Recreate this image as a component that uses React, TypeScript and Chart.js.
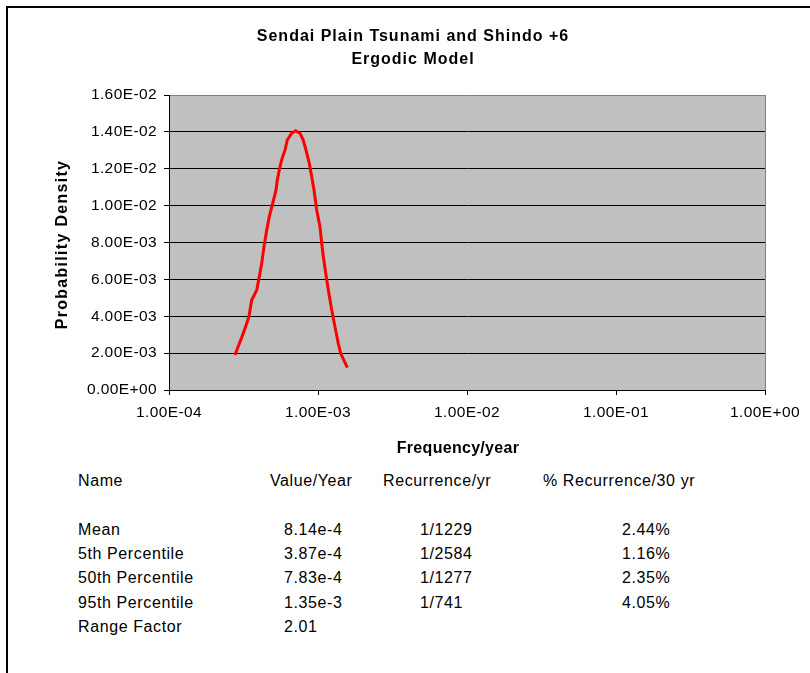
import React, { useEffect, useRef } from "react";
import { Chart, registerables } from "chart.js";

Chart.register(...registerables);

const TITLE_LINES = ["Sendai Plain Tsunami and Shindo +6", "Ergodic Model"];
const X_TITLE = "Frequency/year";
const Y_TITLE = "Probability Density";

const X_TICKS = [1e-4, 1e-3, 1e-2, 1e-1, 1];
const Y_MIN = 0;
const Y_MAX = 0.016;
const Y_STEP = 0.002;

const frequency = [
  2.77e-4, 3.15e-4, 3.44e-4, 3.59e-4, 3.88e-4, 4.04e-4, 4.19e-4, 4.34e-4,
  4.53e-4, 4.71e-4, 4.97e-4, 5.23e-4, 5.33e-4, 5.5e-4, 5.7e-4, 6.01e-4,
  6.22e-4, 6.65e-4, 7.08e-4, 7.57e-4, 7.96e-4, 8.3e-4, 8.74e-4, 9.08e-4,
  9.4e-4, 9.8e-4, 1.031e-3, 1.059e-3, 1.086e-3, 1.127e-3, 1.173e-3, 1.236e-3,
  1.3e-3, 1.368e-3, 1.419e-3, 1.574e-3,
];
const density = [
  0.0019, 0.00307, 0.00398, 0.00488, 0.00542, 0.00615, 0.00687, 0.00777,
  0.00868, 0.0094, 0.01013, 0.01085, 0.01139, 0.01193, 0.01248, 0.01302,
  0.01356, 0.01392, 0.01406, 0.01392, 0.01356, 0.01302, 0.0123, 0.01157,
  0.01085, 0.00976, 0.00886, 0.00796, 0.00723, 0.00633, 0.00542, 0.00434,
  0.00343, 0.00253, 0.00199, 0.00121,
];

const TABLE_HEADER = ["Name", "Value/Year", "Recurrence/yr", "% Recurrence/30 yr"];
const rowNames = ["Mean", "5th Percentile", "50th Percentile", "95th Percentile", "Range Factor"];
const rowValues = ["8.14e-4", "3.87e-4", "7.83e-4", "1.35e-3", "2.01"];
const rowRecurrence = ["1/1229", "1/2584", "1/1277", "1/741", ""];
const rowPercent = ["2.44%", "1.16%", "2.35%", "4.05%", ""];

function excelExp(v: number): string {
  const [m, e] = v.toExponential(2).split("e");
  const sign = e[0] === "-" ? "-" : "+";
  const digits = e.replace(/^[+-]/, "").padStart(2, "0");
  return m + "E" + sign + digits;
}

const FONT = "'Liberation Sans', Arial, sans-serif";

const plotDecor = {
  id: "plotDecor",
  beforeDraw(chart: any) {
    const { ctx, chartArea } = chart;
    ctx.save();
    ctx.fillStyle = "#C0C0C0";
    ctx.fillRect(chartArea.left, chartArea.top, chartArea.right - chartArea.left, chartArea.bottom - chartArea.top);
    ctx.restore();
    (ctx as any).letterSpacing = "0.4px";
  },
  beforeDatasetsDraw(chart: any) {
    const { ctx, chartArea } = chart;
    ctx.save();
    ctx.strokeStyle = "#808080";
    ctx.lineWidth = 1;
    ctx.beginPath();
    ctx.moveTo(chartArea.right + 0.5, chartArea.top);
    ctx.lineTo(chartArea.right + 0.5, chartArea.bottom);
    ctx.stroke();
    ctx.restore();
  },
  afterDraw(chart: any) {
    const { ctx, chartArea } = chart;
    ctx.save();
    ctx.fillStyle = "#000";
    ctx.textAlign = "center";
    ctx.textBaseline = "middle";
    ctx.font = `bold 16px ${FONT}`;
    (ctx as any).letterSpacing = "1px";
    ctx.fillText(TITLE_LINES[0], 405, 29);
    ctx.fillText(TITLE_LINES[1], 405, 52);
    (ctx as any).letterSpacing = "0.3px";
    ctx.fillText(X_TITLE, 450, 441);
    ctx.translate(55, (chartArea.top + chartArea.bottom) / 2 + 2);
    ctx.rotate(-Math.PI / 2);
    (ctx as any).letterSpacing = "1.3px";
    ctx.fillText(Y_TITLE, 0, 0);
    ctx.restore();
    (ctx as any).letterSpacing = "0px";
  },
};

function ChartView() {
  const ref = useRef<HTMLCanvasElement | null>(null);
  useEffect(() => {
    if (!ref.current) return;
    const chart = new Chart(ref.current, {
      type: "line",
      data: {
        datasets: [
          {
            data: frequency.map((f, i) => ({ x: f, y: density[i] })),
            borderColor: "#FF0000",
            borderWidth: 3,
            pointRadius: 0,
            tension: 0,
            fill: false,
          },
        ],
      },
      options: {
        animation: false,
        responsive: false,
        parsing: false as any,
        layout: { padding: { left: 0, right: 45, top: 87, bottom: 0 } },
        plugins: {
          legend: { display: false },
          tooltip: { enabled: false },
          title: { display: false },
        },
        scales: {
          x: {
            type: "logarithmic",
            min: X_TICKS[0],
            max: X_TICKS[X_TICKS.length - 1],
            afterBuildTicks: (scale: any) => {
              scale.ticks = X_TICKS.map((v) => ({ value: v }));
            },
            afterFit: (scale: any) => {
              scale.height = 78;
            },
            ticks: {
              color: "#000",
              font: { family: FONT, size: 15.5 },
              padding: 8,
              maxRotation: 0,
              autoSkip: false,
              callback: (v: any) => excelExp(Number(v)),
            },
            grid: { drawOnChartArea: false, drawTicks: true, tickLength: 5, color: "#000", tickColor: "#000" },
            border: { display: true, color: "#000", width: 1 },
            title: { display: false },
          },
          y: {
            type: "linear",
            min: Y_MIN,
            max: Y_MAX,
            afterFit: (scale: any) => {
              scale.width = 161;
            },
            ticks: {
              stepSize: Y_STEP,
              color: "#000",
              font: { family: FONT, size: 15.5 },
              padding: 7,
              callback: (v: any) => excelExp(Number(v)),
            },
            grid: {
              drawTicks: true,
              tickLength: 5,
              color: (c: any) => (c.tick && Math.abs(c.tick.value - Y_MAX) < 1e-9 ? "#808080" : "#000"),
              tickColor: "#000",
            },
            border: { display: true, color: "#000", width: 1 },
            title: { display: false },
          },
        },
      },
      plugins: [plotDecor],
    } as any);
    return () => chart.destroy();
  }, []);
  return (
    <canvas
      ref={ref}
      width={802}
      height={460}
      style={{ position: "absolute", left: 0, top: 0, width: 802, height: 460 }}
    />
  );
}

const ROW_Y = [530, 554, 578, 603, 627];
const HEADER_Y = 481;

function Cell({ x, y, text }: { x: number; y: number; text: string }) {
  return (
    <div
      style={{
        position: "absolute",
        left: x - 8,
        top: y - 8 - 10,
        height: 20,
        lineHeight: "20px",
        fontFamily: FONT,
        fontSize: 16,
        letterSpacing: "0.6px",
        color: "#000",
        whiteSpace: "nowrap",
      }}
    >
      {text}
    </div>
  );
}

export default function App() {
  return (
    <div
      style={{
        position: "absolute",
        left: 6,
        top: 6,
        width: 802,
        height: 665,
        borderTop: "2px solid #000",
        borderLeft: "2px solid #000",
        overflow: "hidden",
        background: "#fff",
      }}
    >
      <ChartView />
      <Cell x={78} y={HEADER_Y} text={TABLE_HEADER[0]} />
      <Cell x={270} y={HEADER_Y} text={TABLE_HEADER[1]} />
      <Cell x={383} y={HEADER_Y} text={TABLE_HEADER[2]} />
      <Cell x={543} y={HEADER_Y} text={TABLE_HEADER[3]} />
      {rowNames.map((n, i) => (
        <React.Fragment key={n}>
          <Cell x={78} y={ROW_Y[i]} text={n} />
          <Cell x={284} y={ROW_Y[i]} text={rowValues[i]} />
          {rowRecurrence[i] && <Cell x={420} y={ROW_Y[i]} text={rowRecurrence[i]} />}
          {rowPercent[i] && <Cell x={622} y={ROW_Y[i]} text={rowPercent[i]} />}
        </React.Fragment>
      ))}
    </div>
  );
}
